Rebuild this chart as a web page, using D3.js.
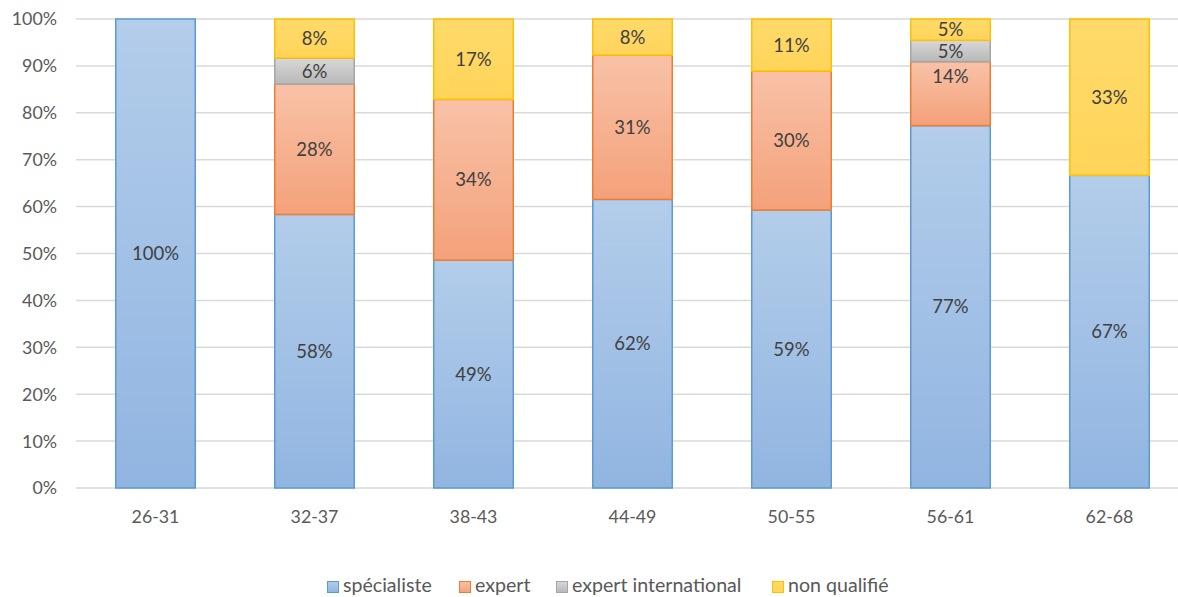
<!DOCTYPE html>
<html><head><meta charset="utf-8">
<script src="https://cdn.jsdelivr.net/npm/d3@7"></script>
<style>body{margin:0;background:#fff;}svg{display:block;font-family:Lato,"Open Sans",sans-serif;}</style>
</head><body><svg id="c" width="1178" height="597"></svg>
<script>
const categories = ["26-31","32-37","38-43","44-49","50-55","56-61","62-68"];
const seriesNames = ["spécialiste","expert","expert international","non qualifié"];
const specialiste = [100, 58.33, 48.57, 61.54, 59.26, 77.27, 66.67];
const expert = [0, 27.78, 34.29, 30.77, 29.63, 13.64, 0];
const expertInternational = [0, 5.56, 0, 0, 0, 4.55, 0];
const nonQualifie = [0, 8.33, 17.14, 7.69, 11.11, 4.55, 33.33];
const yTicks = [0,10,20,30,40,50,60,70,80,90,100];

const seriesVals = [specialiste, expert, expertInternational, nonQualifie];
const fills = [["#b3cdea","#91b5e1"],["#f8c2a7","#f4a17a"],["#d8d8d8","#b8b8b8"],["#ffda6b","#ffd459"]];
const strokes = ["#5b9bd5","#ed7d31","#a5a5a5","#ffc000"];

const svg = d3.select("#c");
const x = d3.scaleBand().domain(categories).range([76,1189]).paddingInner(0.5).paddingOuter(0.25);
const y = d3.scaleLinear().domain([0,100]).range([488,19]);

const defs = svg.append("defs");
fills.forEach((f,i)=>{
  const g = defs.append("linearGradient").attr("id","g"+i).attr("x1",0).attr("y1",0).attr("x2",0).attr("y2",1);
  g.append("stop").attr("offset","0%").attr("stop-color",f[0]);
  g.append("stop").attr("offset","100%").attr("stop-color",f[1]);
});

svg.append("g").selectAll("line").data(yTicks).join("line")
  .attr("x1",76).attr("x2",1178).attr("y1",d=>y(d)).attr("y2",d=>y(d))
  .attr("stroke","#d9d9d9").attr("stroke-width",1.5);

svg.append("g").selectAll("text").data(yTicks).join("text")
  .attr("x",57).attr("y",d=>y(d)).attr("dy","0.36em").attr("text-anchor","end")
  .attr("font-size",17.8).attr("fill","#595959").text(d=>d+"%");

svg.append("g").selectAll("text").data(categories).join("text")
  .attr("x",d=>x(d)+x.bandwidth()/2).attr("y",517).attr("dy","0.36em").attr("text-anchor","middle")
  .attr("font-size",17.8).attr("fill","#595959").text(d=>d);

const rows = categories.map((c,i)=>{const o={cat:c}; seriesNames.forEach((s,j)=>o[s]=seriesVals[j][i]); return o;});
const stack = d3.stack().keys(seriesNames)(rows);
const labelOffset = {"56-61|expert": 15};

stack.forEach((layer,si)=>{
  const segs = layer.filter(d=>d[1]-d[0]>0);
  svg.append("g").selectAll("rect").data(segs).join("rect")
    .attr("x",d=>x(d.data.cat)).attr("width",x.bandwidth())
    .attr("y",d=>y(d[1])).attr("height",d=>y(d[0])-y(d[1]))
    .attr("fill","url(#g"+si+")").attr("stroke",strokes[si]).attr("stroke-width",1.5);
});
stack.forEach((layer,si)=>{
  const segs = layer.filter(d=>d[1]-d[0]>0);
  svg.append("g").selectAll("text").data(segs).join("text")
    .attr("x",d=>x(d.data.cat)+x.bandwidth()/2)
    .attr("y",d=>{const k=d.data.cat+"|"+layer.key; return labelOffset[k]!==undefined ? y(d[1])+labelOffset[k] : (y(d[0])+y(d[1]))/2;})
    .attr("dy","0.36em").attr("text-anchor","middle").attr("font-size",18.5).attr("fill","#404040")
    .text(d=>Math.round(d[1]-d[0])+"%");
});

const legX = [327,459,556,772];
const lg = svg.append("g");
seriesNames.forEach((s,i)=>{
  lg.append("rect").attr("x",legX[i]+0.5).attr("y",581.5).attr("width",11).attr("height",11)
    .attr("fill","url(#g"+i+")").attr("stroke",strokes[i]).attr("stroke-width",1);
  lg.append("text").attr("x",legX[i]+16).attr("y",592)
    .attr("font-size",19.6).attr("fill","#595959").text(s);
});
</script></body></html>
